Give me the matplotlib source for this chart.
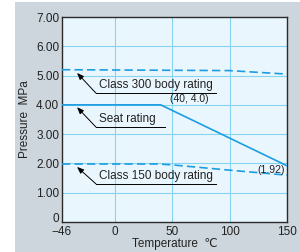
import matplotlib.pyplot as plt
from matplotlib.patches import Rectangle

plt.rcParams['font.family'] = ['Liberation Sans', 'DejaVu Sans']

# data
class300_t = [-46, 100, 150]
class300_p = [5.2, 5.17, 5.05]
seat_t = [-46, 40, 150]
seat_p = [4.0, 4.0, 1.92]
class150_t = [-46, 38, 50, 100, 150]
class150_p = [1.98, 1.98, 1.95, 1.77, 1.6]

x_ticks = [-46, 0, 50, 100, 150]
x_labels = ['\u221246', '0', '50', '100', '150']
y_ticks = [0, 1, 2, 3, 4, 5, 6, 7]
y_labels = ['0', '1.00', '2.00', '3.00', '4.00', '5.00', '6.00', '7.00']

blue = '#1c9de2'
grid_c = '#86d3f2'
dark = '#2a2a2a'

fig = plt.figure(figsize=(3.0, 2.52), dpi=100)
fig.patches.append(Rectangle((15/300, 0), 1, 250/252, transform=fig.transFigure,
                             facecolor='#cdd6dc', edgecolor='none', zorder=-10))

ax = fig.add_axes([62/300, 30/252, 225/300, 205/252])
ax.set_facecolor('#eaf6fd')
ax.set_xlim(-46, 150)
ax.set_ylim(0, 7)

for v in [0, 50, 100]:
  ax.axvline(v, color=grid_c, lw=0.8, zorder=1)
for v in [1, 2, 3, 4, 5, 6]:
  ax.axhline(v, color=grid_c, lw=0.8, zorder=1)

ax.plot(class300_t, class300_p, color=blue, lw=1.2, dashes=(5, 2.5), zorder=3)
ax.plot(seat_t, seat_p, color=blue, lw=1.2, zorder=3)
ax.plot(class150_t, class150_p, color=blue, lw=1.2, dashes=(5, 2.5), zorder=3)

# leader lines with labels
labels = [('Class 300 body rating', -32.9, 5.09, -16.4, 4.40, 88.2),
          ('Seat rating', -32.9, 3.92, -16.4, 3.24, 43.7),
          ('Class 150 body rating', -32.9, 1.88, -16.4, 1.30, 88.2)]
for txt, tx, ty, ux, uy, uend in labels:
  ax.annotate('', xy=(tx, ty), xytext=(ux, uy),
              arrowprops=dict(arrowstyle='-|>,head_length=0.5,head_width=0.2', color='black', lw=0.7,
                              mutation_scale=8, shrinkA=0, shrinkB=0), zorder=4)
  ax.plot([ux, uend], [uy, uy], color='black', lw=0.7, zorder=4)
  ax.text(ux + 3, uy + 0.08, txt, fontsize=8.5, color='#222222', va='bottom', ha='left', zorder=4)

ax.text(48, 4.03, '(40, 4.0)', fontsize=7.5, color='#222222', va='bottom', ha='left')
ax.text(148, 1.62, '(1.92)', fontsize=7.5, color='#222222', va='bottom', ha='right')

ax.set_xticks(x_ticks)
ax.set_xticklabels(x_labels)
ax.set_yticks(y_ticks)
ax.set_yticklabels(y_labels)
ax.tick_params(length=0, labelsize=8.5, colors='#222222', pad=2)
ax.tick_params(axis='x', pad=3)
ax.get_yticklabels()[0].set_va('baseline')
for s in ax.spines.values():
  s.set_color(dark)
  s.set_linewidth(1.0)

ax.set_xlabel('Temperature  \u2103', fontsize=8.5, color='#222222', labelpad=0)
ax.set_ylabel('Pressure  MPa', fontsize=8.5, color='#222222', labelpad=4)

fig.savefig('out.png', dpi=100)
